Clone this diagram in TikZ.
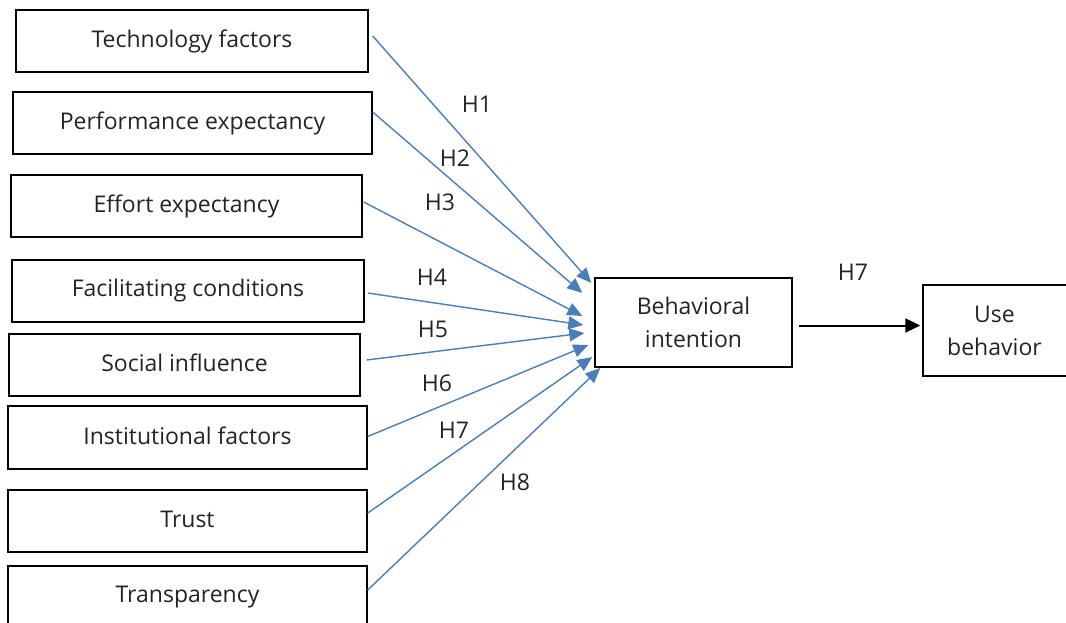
\documentclass[tikz,border=0pt]{standalone}
\usepackage{fontspec}
\setmainfont{Open Sans}
\usetikzlibrary{arrows.meta}
\definecolor{linkblue}{RGB}{74,126,187}
\definecolor{txt}{RGB}{35,35,35}
\tikzset{
  factor/.style={draw=black, line width=1.4pt, minimum height=62pt, inner sep=0pt, font=\fontsize{23}{33}\selectfont, text=txt},
  link/.style={draw=linkblue, line width=1.4pt, -{Triangle[length=15pt,width=13pt]}},
  hlab/.style={font=\fontsize{23}{27}\selectfont, text=txt, inner sep=0pt},
  mainarrow/.style={draw=black, line width=2pt, -{Triangle[length=15pt,width=14pt]}}
}
\begin{document}
\begin{tikzpicture}[x=1pt,y=-1pt]
\useasboundingbox (0,0) rectangle (1066,623);
\clip (0,0) rectangle (1066,623);
% left factor boxes
\node[factor, minimum width=352pt] (tech)   at (192,41)    {Technology factors};
\node[factor, minimum width=359pt] (perf)   at (192.5,123) {\raisebox{1pt}{Performance expectancy}};
\node[factor, minimum width=351pt] (effort) at (186.5,206) {\raisebox{1pt}{Effort expectancy}};
\node[factor, minimum width=352pt] (facil)  at (188,291)   {Facilitating conditions};
\node[factor, minimum width=351pt] (social) at (184.5,365) {\raisebox{4pt}{Social influence}};
\node[factor, minimum width=359pt, minimum height=63pt] (inst) at (187.5,437.5) {\raisebox{3pt}{Institutional factors}};
\node[factor, minimum width=359pt] (trust)  at (187.5,521)  {\raisebox{3pt}{Trust}};
\node[factor, minimum width=359pt] (transp) at (187.5,597) {Transparency};
% central and outcome boxes
\node[factor, minimum width=197pt, minimum height=89pt, align=center] (bi) at (693.5,322.5) {Behavioral\\intention};
\node[factor, minimum width=150pt, minimum height=91pt, align=center] (ub) at (998,330.5) {\hspace*{-7pt}Use\\\hspace*{-7pt}behavior};
% blue connectors
\draw[link] ([xshift=4pt,yshift=5pt]tech.east)    -- ([xshift=-3pt,yshift=39.5pt]bi.west);
\draw[link] ([xshift=0pt,yshift=11pt]perf.east)   -- ([xshift=-12pt,yshift=29.5pt]bi.west);
\draw[link] ([xshift=1pt,yshift=4pt]effort.east)  -- ([xshift=-12pt,yshift=6.5pt]bi.west);
\draw[link] ([xshift=3pt,yshift=-2pt]facil.east)  -- ([xshift=-11pt,yshift=-2.5pt]bi.west);
\draw[link] ([xshift=6pt,yshift=5pt]social.east)  -- ([xshift=-10pt,yshift=-10.5pt]bi.west);
\draw[link] ([xshift=0pt,yshift=1pt]inst.east)    -- ([xshift=-6pt,yshift=-22.5pt]bi.west);
\draw[link] ([xshift=0pt,yshift=8pt]trust.east)   -- ([xshift=-2pt,yshift=-34.5pt]bi.west);
\draw[link] ([xshift=0pt,yshift=7pt]transp.east)  -- ([xshift=6pt,yshift=-45.5pt]bi.west);
% main arrow
\draw[mainarrow] ([xshift=6pt,yshift=-3pt]bi.east) -- ([xshift=-2pt,yshift=5pt]ub.west);
% hypothesis labels
\node[hlab] (h1) at (477,104) {H1};
\node[hlab] (h2) at (455,158) {H2};
\node[hlab] (h3) at (440,202) {H3};
\node[hlab] (h4) at (432,277) {H4};
\node[hlab] (h5) at (433,329) {H5};
\node[hlab] (h6) at (437,383) {H6};
\node[hlab] (h7) at (454,430) {H7};
\node[hlab] (h8) at (515,482) {H8};
\node[hlab] (h7b) at (853,272) {H7};
\end{tikzpicture}
\end{document}
